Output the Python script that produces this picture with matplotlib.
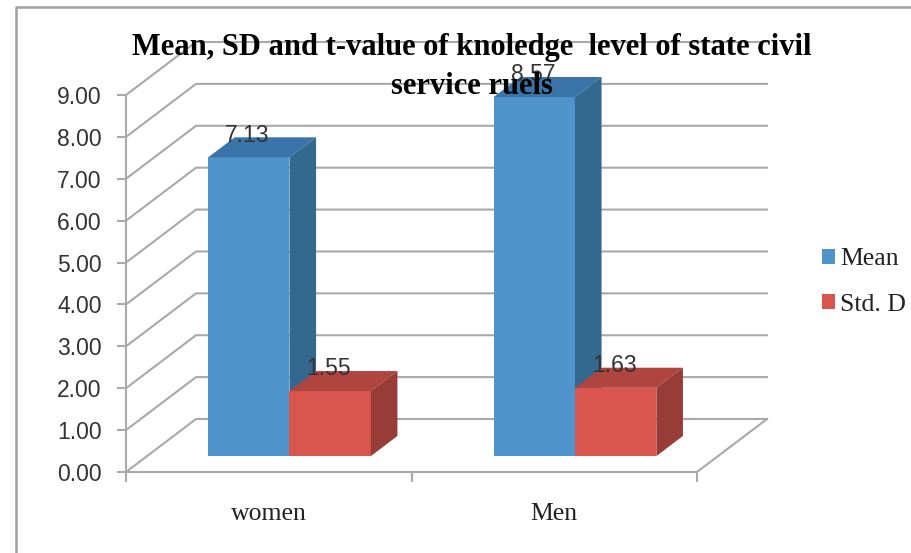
import matplotlib
matplotlib.use('Agg')
import matplotlib.pyplot as plt
from matplotlib.patches import Polygon, Patch
from matplotlib.lines import Line2D

# ====== DATA ======
categories = ['women', 'Men']
mean_values = [7.13, 8.57]
std_values = [1.55, 1.63]
y_ticks = [0, 1, 2, 3, 4, 5, 6, 7, 8, 9]
title = 'Mean, SD and t-value of knoledge  level of state civil\nservice ruels'

# ====== STYLE ======
grid_color = '#a9a9a9'
blue = ('#4f94cd', '#3a74a8', '#33688f')    # front, top, side
red = ('#d9564f', '#b04540', '#973c37')
sans = 'Liberation Sans'
serif = 'Liberation Serif'

# Oblique depth of the chart box, in data units
depth_x = 70 / 285.5
depth_y = 53 / 41.9
# Where the bars sit inside that depth (0 = front, 1 = back)
bar_d0 = 0.30
bar_d1 = 0.68
gap = 0.214
bar_width = 0.285


def project(x, v, d):
    return (x + d * depth_x, v + d * depth_y)


def drawBar(ax, x0, x1, value, colors):
    a = project(x0, 0, bar_d0)
    b = project(x1, 0, bar_d0)
    c = project(x1, value, bar_d0)
    d = project(x0, value, bar_d0)
    e = project(x1, value, bar_d1)
    f = project(x0, value, bar_d1)
    g = project(x1, 0, bar_d1)
    ax.add_patch(Polygon([a, b, c, d], fc=colors[0], ec='none', clip_on=False, zorder=3))
    ax.add_patch(Polygon([d, c, e, f], fc=colors[1], ec='none', clip_on=False, zorder=3))
    ax.add_patch(Polygon([b, g, e, c], fc=colors[2], ec='none', clip_on=False, zorder=3))


# ====== MAKE FIGURE ======
fig = plt.figure(figsize=(9.12, 5.53), dpi=100, facecolor='white')

# Frame of the screenshot, left and top only
fig.add_artist(Line2D([16 / 912, 16 / 912, 1], [0, 1 - 7 / 553, 1 - 7 / 553], color='#a0a0a0', lw=1.8))

ax = fig.add_axes([126 / 912, (553 - 472) / 553, 571 / 912, 377 / 553])
ax.set_xlim(0, len(categories))
ax.set_ylim(0, 9)
ax.patch.set_visible(False)
for s in ax.spines.values():
    s.set_visible(False)
for s in ['left', 'bottom']:
    ax.spines[s].set_visible(True)
    ax.spines[s].set_color(grid_color)
    ax.spines[s].set_linewidth(1.5)

# Side wall and back wall gridlines
for v in y_ticks:
    p0 = project(0, v, 0)
    p1 = project(0, v, 1)
    p2 = project(len(categories), v, 1)
    ax.plot([p0[0], p1[0], p2[0]], [p0[1], p1[1], p2[1]], color=grid_color, lw=1.5, clip_on=False, zorder=1)

# Right edge of the floor
p0 = project(len(categories), 0, 0)
p1 = project(len(categories), 0, 1)
ax.plot([p0[0], p1[0]], [p0[1], p1[1]], color=grid_color, lw=1.5, clip_on=False, zorder=1)

# Bars
for i in range(len(categories)):
    x0 = i + gap
    drawBar(ax, x0, x0 + bar_width, mean_values[i], blue)
    drawBar(ax, x0 + bar_width, x0 + 2 * bar_width, std_values[i], red)

for i in range(len(categories)):
    x0 = i + gap
    for x, value in [(x0 + bar_width / 2, mean_values[i]), (x0 + 1.5 * bar_width, std_values[i])]:
        px, pv = project(x, value, bar_d0)
        ax.annotate('%.2f' % value, (px, pv), xytext=(-1, 16), textcoords='offset points',
                    ha='center', va='center', fontsize=16.5, family=sans, color='#333333', zorder=6)

# Axes ticks
ax.set_yticks(y_ticks)
ax.set_yticklabels(['%.2f' % v for v in y_ticks], family=sans, fontsize=16.5, color='#333333')
ax.tick_params(axis='y', length=6.5, width=1.5, color=grid_color, pad=11)
ax.set_xticks(range(len(categories) + 1))
ax.set_xticklabels([])
ax.tick_params(axis='x', which='major', length=7, width=1.5, color=grid_color)
ax.set_xticks([i + 0.5 for i in range(len(categories))], minor=True)
ax.set_xticklabels(categories, minor=True, family=serif, fontsize=18.5, color='#222222')
ax.tick_params(axis='x', which='minor', length=0, pad=22.5)

# Legend
handles = [Patch(fc=blue[0], ec='none', label='Mean'), Patch(fc=red[0], ec='none', label='Std. D')]
fig.legend(handles=handles, loc='center left', bbox_to_anchor=(822 / 912, 1 - 282 / 553), frameon=False,
           prop={'family': serif, 'size': 18.5}, handlelength=0.52, handleheight=0.52, handletextpad=0.2,
           labelspacing=0.9, borderpad=0, borderaxespad=0, labelcolor='#222222')

# Title on top of everything
fig.text(472 / 912, 1 - 67 / 553, title, ha='center', va='center', family=serif, weight='bold',
         fontsize=22, linespacing=1.42, color='black', zorder=10)

plt.savefig('out.png', dpi=100)
plt.close()
